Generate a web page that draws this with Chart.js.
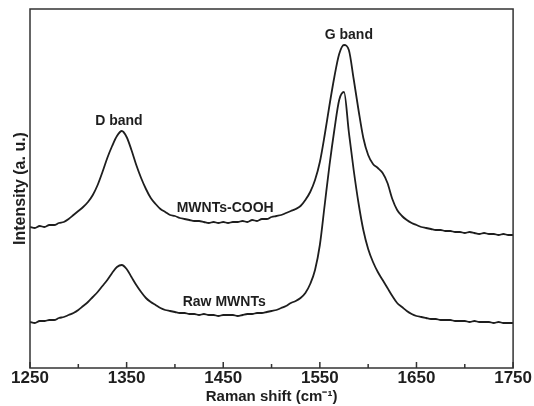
<!DOCTYPE html>
<html>
<head>
<meta charset="utf-8">
<script src="https://cdn.jsdelivr.net/npm/chart.js@4/dist/chart.umd.min.js"></script>
<style>
  html, body { margin: 0; padding: 0; background: #fff; }
</style>
</head>
<body>
<canvas id="myChart" width="534" height="406"></canvas>
<script>
// Raman shift axis: 1250..1750 cm-1, one reading every 5 cm-1
const shiftStart = 1250
const shiftStep = 5

// MWNTs-COOH (upper trace), arbitrary intensity units
const coohValues = [
  141, 140, 142, 141, 143, 143, 145, 146, 149, 153,
  157, 161, 166, 173, 183, 196, 210, 222, 232, 237,
  231, 218, 203, 190, 179, 170, 164, 159, 156, 153,
  152, 150, 149, 148, 147, 147, 146, 145, 146, 145,
  146, 145, 146, 146, 147, 146, 148, 147, 149, 149,
  151, 152, 153, 155, 157, 159, 162, 168, 176, 188,
  206, 233, 263, 291, 314, 323, 318, 289, 258, 230,
  213, 204, 200, 195, 185, 169, 158, 152, 148, 145,
  143, 141, 140, 139, 138, 138, 137, 137, 136, 136,
  135, 136, 135, 134, 135, 134, 134, 133, 134, 133,
  133
]

// Raw MWNTs (lower trace)
const rawValues = [
  46, 45, 47, 47, 48, 48, 50, 51, 53, 55,
  58, 62, 66, 71, 76, 82, 88, 95, 101, 103,
  99, 91, 83, 76, 70, 66, 63, 60, 58, 57,
  56, 55, 55, 54, 54, 53, 54, 53, 53, 52,
  53, 53, 53, 52, 53, 54, 54, 55, 55, 56,
  57, 58, 60, 62, 65, 67, 70, 75, 84, 98,
  123, 163, 203, 238, 268, 276, 236, 198, 165, 138,
  119, 106, 96, 88, 80, 72, 65, 61, 57, 54,
  52, 51, 50, 49, 49, 48, 48, 48, 47, 47,
  47, 46, 47, 46, 46, 46, 45, 46, 45, 45,
  45
]

const majorTicks = [1250, 1350, 1450, 1550, 1650, 1750]
const minorTicks = [1300, 1400, 1500, 1600, 1700]

// text labels placed in data coordinates
const bandLabels = [
  { text: 'D band', x: 1342, y: 247 },
  { text: 'G band', x: 1580, y: 333 },
  { text: 'MWNTs-COOH', x: 1452, y: 160 },
  { text: 'Raw MWNTs', x: 1451, y: 66 },
]

const toPoints = (vals) => vals.map((v, i) => ({ x: shiftStart + i * shiftStep, y: v }))

const ink = '#1e1e1e'
const fontFam = '"Liberation Sans", Arial, sans-serif'

const framePlugin = {
  id: 'frame',
  afterDraw(chart) {
    const { ctx, chartArea: a, scales } = chart
    ctx.save()
    ctx.strokeStyle = '#333'
    ctx.lineWidth = 1.5
    ctx.strokeRect(a.left, a.top, a.right - a.left, a.bottom - a.top)
    // inward tick marks on the bottom axis
    ctx.beginPath()
    majorTicks.forEach((t) => {
      const px = scales.x.getPixelForValue(t)
      ctx.moveTo(px, a.bottom)
      ctx.lineTo(px, a.bottom - 6)
    })
    minorTicks.forEach((t) => {
      const px = scales.x.getPixelForValue(t)
      ctx.moveTo(px, a.bottom)
      ctx.lineTo(px, a.bottom - 4)
    })
    ctx.stroke()
    // band / sample labels
    ctx.fillStyle = ink
    ctx.font = 'bold 14px ' + fontFam
    ctx.textAlign = 'center'
    ctx.textBaseline = 'middle'
    bandLabels.forEach((l) => {
      ctx.fillText(l.text, scales.x.getPixelForValue(l.x), scales.y.getPixelForValue(l.y))
    })
    ctx.restore()
  }
}

const ctx = document.getElementById('myChart').getContext('2d')
const myChart = new Chart(ctx, {
  type: 'line',
  data: {
    datasets: [
      {
        label: 'MWNTs-COOH',
        data: toPoints(coohValues),
        borderColor: ink,
        borderWidth: 1.8,
        pointRadius: 0,
        cubicInterpolationMode: 'monotone',
      },
      {
        label: 'Raw MWNTs',
        data: toPoints(rawValues),
        borderColor: ink,
        borderWidth: 1.8,
        pointRadius: 0,
        cubicInterpolationMode: 'monotone',
      },
    ]
  },
  options: {
    responsive: false,
    animation: false,
    devicePixelRatio: 1,
    layout: { padding: { top: 9, right: 20, bottom: 0, left: 6 } },
    plugins: { legend: { display: false }, tooltip: { enabled: false } },
    scales: {
      x: {
        type: 'linear',
        min: 1250,
        max: 1750,
        afterBuildTicks: (scale) => { scale.ticks = majorTicks.map((v) => ({ value: v })) },
        afterFit: (scale) => { scale.height = 38 },
        grid: { display: false, drawTicks: false },
        border: { display: false },
        ticks: {
          color: ink,
          padding: 2,
          maxRotation: 0,
          callback: (v) => String(v),
          font: { family: fontFam, size: 17, weight: 'bold', lineHeight: 1 },
        },
        title: {
          display: true,
          text: 'Raman shift (cm\u207B\u00B9)',
          color: ink,
          padding: { top: 0, bottom: 1.5 },
          font: { family: fontFam, size: 15, weight: 'bold', lineHeight: 1 },
        },
      },
      y: {
        min: 0,
        max: 359,
        grid: { display: false, drawTicks: false },
        border: { display: false },
        ticks: { display: false },
        title: {
          display: true,
          text: 'Intensity (a. u.)',
          color: ink,
          padding: { top: 7, bottom: 1 },
          font: { family: fontFam, size: 16, weight: 'bold', lineHeight: 1 },
        },
      },
    },
  },
  plugins: [framePlugin],
})
</script>
</body>
</html>
